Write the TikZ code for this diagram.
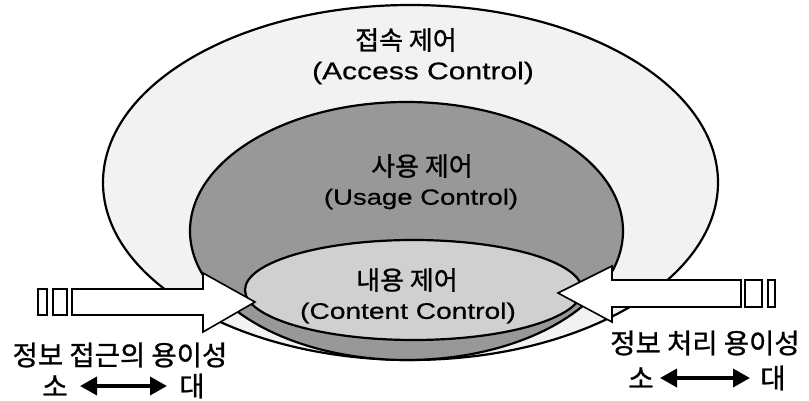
\documentclass[tikz,border=0pt]{standalone}
\usepackage{fontspec}
\setmainfont{Liberation Sans}
\newfontfamily\kr[FakeBold=1]{Noto Sans CJK KR}
\newfontfamily\lat[FakeStretch=1.25,FakeBold=0.6]{Liberation Sans}
\usetikzlibrary{arrows.meta}
\definecolor{outerc}{HTML}{F2F2F2}
\definecolor{usagec}{HTML}{989898}
\definecolor{contc}{HTML}{D0D0D0}
\tikzset{
  ell/.style={line width=2.2pt, draw=black},
  krtext/.style={inner sep=0pt, font=\kr\fontsize{26}{28}\selectfont},
  captext/.style={inner sep=0pt, font=\kr\fontsize{27.5}{30}\selectfont},
  lattext/.style={inner sep=0pt, font=\lat\fontsize{24}{28}\selectfont},
  bigarrow/.style={fill=white, draw=black, line width=1.6pt, line join=miter},
  dblarrow/.style={line width=3.5pt, {Triangle[length=17pt,width=18pt]}-{Triangle[length=17pt,width=18pt]}}
}
\begin{document}
\begin{tikzpicture}[x=1pt,y=-1pt]
\useasboundingbox (0,0) rectangle (809,401);
\fill[white] (0,0) rectangle (809,401);
% ellipses
\filldraw[ell, fill=outerc] (410.5,182.5) ellipse [x radius=307.5pt, y radius=177.5pt];
\filldraw[ell, fill=usagec] (406.5,231) ellipse [x radius=216.5pt, y radius=129pt];
\filldraw[ell, fill=contc] (413.5,290) ellipse [x radius=168.5pt, y radius=50pt];
% left big arrow
\draw[bigarrow] (38,289) rectangle (47,315);
\draw[bigarrow] (53,289) rectangle (67,315);
\draw[bigarrow] (72,289) -- (203,289) -- (203,273) -- (255,302) -- (203,332) -- (203,315) -- (72,315) -- cycle;
% right big arrow
\draw[bigarrow] (768,280) rectangle (775,307);
\draw[bigarrow] (745,280) rectangle (762,307);
\draw[bigarrow] (741,280) -- (612,280) -- (612,266) -- (558,293) -- (612,322) -- (612,307) -- (741,307) -- cycle;
% texts
\node[krtext] (acckr) at (406,40) {접속 제어};
\node[lattext] (acclat) at (423,73) {(Access Control)};
\node[krtext] (usekr) at (422,166) {사용 제어};
\node[lattext, font=\lat\fontsize{22}{26}\selectfont] (uselat) at (421,199) {(Usage Control)};
\node[krtext] (conkr) at (407,280) {내용 제어};
\node[lattext, font=\lat\fontsize{22.5}{26}\selectfont] (conlat) at (408,313) {(Content Control)};
% bottom left
\node[captext] (lcap) at (120,355) {정보 접근의 용이성};
\node[captext] (lsmall) at (55,386) {소};
\node[captext] (lbig) at (192,386) {대};
\coordinate (la1) at (80,386);
\coordinate (la2) at (167,386);
\draw[dblarrow] (la1) -- (la2);
% bottom right
\node[captext] (rcap) at (705,343) {정보 처리 용이성};
\node[captext] (rsmall) at (641,378) {소};
\node[captext] (rbig) at (773,378) {대};
\coordinate (ra1) at (660,378);
\coordinate (ra2) at (750,378);
\draw[dblarrow] (ra1) -- (ra2);
\end{tikzpicture}
\end{document}
